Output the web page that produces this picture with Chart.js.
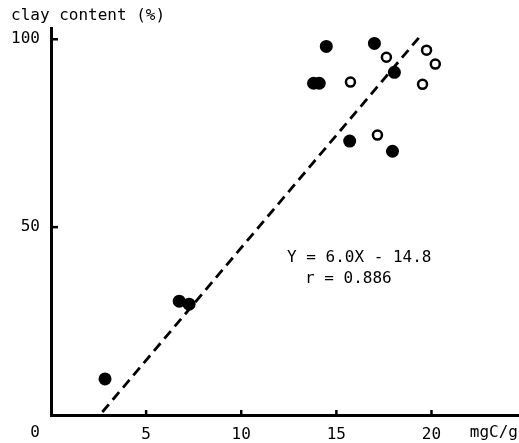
<!DOCTYPE html>
<html>
<head>
<meta charset="utf-8">
<script src="https://cdn.jsdelivr.net/npm/chart.js@4"></script>
<style>
  html, body { margin: 0; padding: 0; background: #fff; }
  #wrap { width: 519px; height: 443px; position: relative; }
</style>
</head>
<body>
<div id="wrap"><canvas id="c"></canvas></div>
<script>
// values (x in mgC/g, y in clay %)
const filledX = [2.84, 6.74, 7.26, 14.47, 17.0, 13.8, 14.1, 18.05, 15.7, 17.95];
const filledY = [9.6, 30.3, 29.5, 98.1, 98.9, 88.3, 88.3, 91.2, 72.9, 70.2];
const openX = [17.63, 19.74, 20.2, 15.74, 19.53, 17.16];
const openY = [95.2, 97.1, 93.4, 88.6, 88.0, 74.5];
const fitX = [2.7, 19.4];
const fitY = [0.8, 100.8];
const xTicks = [5, 10, 15, 20];
const yTicks = [50, 100];
const equation = ['Y = 6.0X - 14.8', 'r = 0.886'];

const FONT = '"DejaVu Sans Mono", "Liberation Mono", monospace';
const pts = (xs, ys) => xs.map((x, i) => ({ x, y: ys[i] }));

// axis tick marks, corner zero, axis names and the fit equation
const decor = {
  id: 'decor',
  afterDatasetsDraw(chart) {
    const { ctx, scales: { x, y } } = chart;
    const x0 = x.getPixelForValue(0), y0 = y.getPixelForValue(0);
    ctx.save();
    ctx.strokeStyle = '#000';
    ctx.lineWidth = 2.5;
    xTicks.forEach(v => {
      const px = x.getPixelForValue(v);
      ctx.beginPath(); ctx.moveTo(px, y0); ctx.lineTo(px, y0 - 5); ctx.stroke();
    });
    yTicks.forEach(v => {
      const py = y.getPixelForValue(v);
      ctx.beginPath(); ctx.moveTo(x0, py); ctx.lineTo(x0 + 7, py); ctx.stroke();
    });
    ctx.fillStyle = '#000';
    ctx.font = '16px ' + FONT;
    ctx.textBaseline = 'middle';
    ctx.textAlign = 'left';
    ctx.fillText('clay content (%)', 11, 16);
    ctx.fillText(equation[0], 287, 258);
    ctx.fillText(equation[1], 305, 279);
    ctx.textAlign = 'center';
    ctx.fillText('0', 35, 433);
    ctx.textAlign = 'right';
    ctx.fillText('mgC/g', 518, 433);
    ctx.restore();
  }
};

new Chart(document.getElementById('c'), {
  type: 'scatter',
  data: {
    datasets: [
      {
        data: pts(filledX, filledY),
        pointRadius: 6.5,
        backgroundColor: '#000',
        borderColor: '#000',
        borderWidth: 0,
      },
      {
        data: pts(openX, openY),
        pointRadius: 4.5,
        backgroundColor: '#fff',
        borderColor: '#000',
        borderWidth: 2.5,
      },
      {
        type: 'line',
        data: pts(fitX, fitY),
        borderColor: '#000',
        borderWidth: 2.8,
        borderDash: [10, 6],
        pointRadius: 0,
        fill: false,
      },
    ],
  },
  options: {
    responsive: true,
    maintainAspectRatio: false,
    animation: false,
    layout: { autoPadding: false, padding: { top: 28, right: 0, left: 0, bottom: 0 } },
    plugins: { legend: { display: false }, tooltip: { enabled: false } },
    scales: {
      x: {
        type: 'linear',
        min: 0,
        max: 24.6,
        afterFit: s => { s.height = 28; s.paddingRight = 0; s.paddingLeft = 0; },
        afterBuildTicks: s => { s.ticks = xTicks.map(v => ({ value: v })); },
        grid: { display: false, drawTicks: false },
        border: { color: '#000', width: 3 },
        ticks: { color: '#000', padding: 10, font: { family: FONT, size: 16 } },
      },
      y: {
        type: 'linear',
        min: 0,
        max: 103,
        afterFit: s => { s.width = 51; s.paddingTop = 0; s.paddingBottom = 0; },
        afterBuildTicks: s => { s.ticks = yTicks.map(v => ({ value: v })); },
        grid: { display: false, drawTicks: false },
        border: { color: '#000', width: 3 },
        ticks: { color: '#000', padding: 11, font: { family: FONT, size: 16 } },
      },
    },
  },
  plugins: [decor],
});
</script>
</body>
</html>
